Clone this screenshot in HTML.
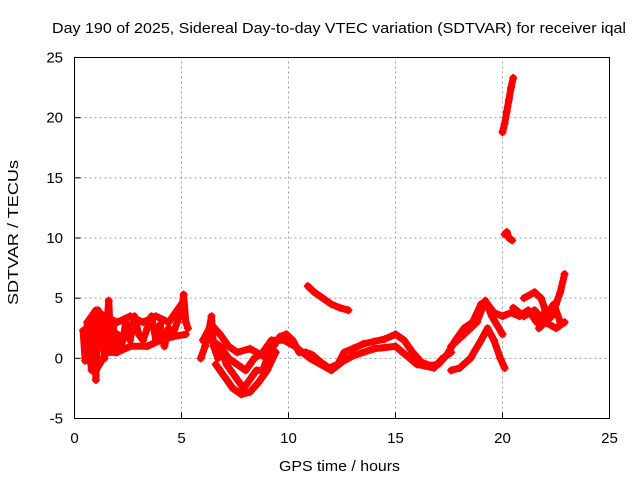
<!DOCTYPE html>
<html><head><meta charset="utf-8"><style>
body{margin:0;background:#fff;}
svg{display:block;font-family:"Liberation Sans",sans-serif;}
</style></head><body>
<svg id="chart" width="640" height="480">
<rect width="640" height="480" fill="#fff"/>
<text x="52" y="33" font-size="15" textLength="574" lengthAdjust="spacingAndGlyphs">Day 190 of 2025, Sidereal Day-to-day VTEC variation (SDTVAR) for receiver iqal</text>
<text x="279" y="471" font-size="15" textLength="121" lengthAdjust="spacingAndGlyphs">GPS time / hours</text>
<text transform="translate(18,305) rotate(-90)" font-size="15" textLength="145" lengthAdjust="spacingAndGlyphs">SDTVAR / TECUs</text>
<g id="grid"></g>
<g id="marks"></g>
<rect x="74.5" y="57.5" width="535" height="361" fill="none" stroke="#000" stroke-width="1"/>
<g id="axes"></g>
</svg>
<script>
const xTicks=[0,5,10,15,20,25];
const yTicks=[-5,0,5,10,15,20,25];
const track1=[[0.4,2.3],[0.5,-0.2],[0.6,3],[0.7,0.5],[0.8,-1],[0.9,3.5],[1.0,-1.8],[1.1,4],[1.2,1],[1.3,3],[1.4,0],[1.5,2.5],[1.6,4.8],[1.7,1],[1.8,3],[1.9,0.5],[2.0,2],[2.2,1],[2.4,3],[2.6,1.5],[2.8,3.5],[3.0,2],[3.2,1.5],[3.4,2.5],[3.6,3.5],[3.8,1.5],[4.0,2.8],[4.2,1],[4.4,2.5],[4.6,2],[4.8,3],[5.0,4],[5.1,5.3],[5.2,3],[5.3,2.5]];
const track2=[[5.9,0],[6.1,1],[6.3,2.5],[6.4,3.5],[6.5,1],[6.7,0],[6.9,0.5],[7.1,-0.5],[7.3,-1],[7.5,-1.5],[7.7,-2],[7.9,-2.5],[8.1,-2],[8.3,-1.5],[8.5,-1],[8.8,-1],[9.0,0],[9.3,1],[9.6,1.8],[9.9,2],[10.2,1.5],[10.5,0.5],[10.8,0.5],[11.1,0.3],[11.5,-0.3],[11.9,-0.8],[12.3,-0.5],[12.6,0.5],[13.0,0.8],[13.5,1.2],[14.0,1.4],[14.5,1.6],[15.0,2],[15.4,1.5],[15.8,0.5],[16.2,-0.3],[16.6,-0.6],[17.0,-0.5],[17.4,0.3],[17.8,1.5],[18.2,2.5],[18.6,3],[19.0,4.5],[19.3,4.5],[19.6,3.8],[20.0,3.5],[20.4,3.8],[20.8,3.5],[21.2,4],[21.6,3],[22.0,3.5],[22.4,4.5],[22.7,3]];
const track3=[[6.2,1.8],[6.8,1],[7.2,0],[7.6,-0.5],[8.0,-1],[8.4,0],[8.8,0.5],[9.2,1.5],[9.8,1.5],[10.3,1],[11.0,0],[11.5,-0.5],[12.0,-1],[12.5,-0.3],[13.0,0.2],[14.0,0.8],[15.0,1],[16.0,-0.5],[16.8,-0.8],[17.2,0],[17.6,0.5]];
const track4=[[17.6,-1],[18.0,-0.8],[18.5,0],[19.0,1.5],[19.3,2.5],[19.6,1.5],[19.9,0],[20.1,-0.8]];
const track5=[[17.6,1],[18.2,2],[18.8,3],[19.2,4.8],[19.5,3.5],[20.0,2]];
const track6=[[10.9,6],[11.2,5.5],[11.6,5],[12.0,4.5],[12.4,4.2],[12.8,4]];
const track7=[[20.0,18.8],[20.1,19.5],[20.2,20.5],[20.3,21.5],[20.4,22.5],[20.5,23.3]];
const track8=[[20.1,10.3],[20.2,10.5],[20.3,10],[20.45,9.8]];
const track9=[[21.0,5],[21.5,5.5],[21.8,5],[22.0,4],[21.7,2.5],[22.3,3.5],[22.5,4.5],[22.7,5.5],[22.9,7]];
const track10=[[6.6,-0.5],[7.0,-1.5],[7.4,-2.5],[7.8,-3],[8.2,-2.8],[8.6,-2],[9.0,-1],[9.4,0.5]];
const track11=[[0.6,3],[1.0,4],[1.4,3.5],[2.0,3],[2.6,3.5],[3.2,3],[3.8,3.5],[4.4,3],[5.0,4.5]];
const track12=[[0.6,0],[1.0,-1],[1.5,0.5],[2.0,0.5],[2.6,1],[3.4,1],[4.0,1.5],[4.6,1.8],[5.2,2]];
const track13=[[20.5,4.2],[21.0,3.5],[21.5,4],[22.0,3],[22.5,2.5],[22.9,3]];
const track14=[[6.0,1.5],[6.4,2.8],[6.8,2],[7.2,1],[7.6,0.5],[8.2,0.8],[8.8,0.2]];
const tracks=[track1,track2,track3,track4,track5,track6,track7,track8,track9,track10,track11,track12,track13,track14];
const X0=74.5,X1=609.5,Y0=418.5,Y1=57.5;
const xs=v=>X0+(v-0)/(25-0)*(X1-X0);
const ys=v=>Y0-(v+5)/30*(Y0-Y1);
const NS='http://www.w3.org/2000/svg';
const grid=document.getElementById('grid'),axes=document.getElementById('axes'),marks=document.getElementById('marks');
function mk(t,a,p){const e=document.createElementNS(NS,t);for(const k in a)e.setAttribute(k,a[k]);p.appendChild(e);return e;}
xTicks.forEach(t=>{const x=xs(t);
 if(t>0&&t<25){const g=mk('line',{x1:x,x2:x,y1:Y0,y2:Y1,stroke:'#a0a0a0','stroke-dasharray':'2,3'},grid);
 
 }
 const l=mk('line',{x1:x,x2:x,y1:Y0,y2:Y0-6,stroke:'#000'},axes);
 
 
 const tx=mk('text',{x:x,y:443,'font-size':15,'text-anchor':'middle'},axes);tx.textContent=t;
 
 
});
yTicks.forEach(t=>{const y=ys(t);
 if(t>-5&&t<25){const g=mk('line',{x1:X0,x2:X1,y1:y,y2:y,stroke:'#a0a0a0','stroke-dasharray':'2,3'},grid);
 
 }
 const l=mk('line',{x1:X0,x2:X0+6,y1:y,y2:y,stroke:'#000'},axes);
 
 
 const tx=mk('text',{x:63,y:y+5,'font-size':15,'text-anchor':'end'},axes);tx.textContent=t;
 
 
});
tracks.forEach(tr=>{
 const pl=mk('polyline',{points:tr.map(p=>xs(p[0])+','+ys(p[1])).join(' '),fill:'none',stroke:'#ff0000','stroke-width':7,'stroke-linejoin':'round','stroke-linecap':'round'},marks);
 
 
 tr.forEach(p=>{const x=xs(p[0]),y=ys(p[1]);
  const m=mk('path',{d:`M${x-4},${y}H${x+4}M${x},${y-4}V${y+4}`,stroke:'#ff0000','stroke-width':1.5},marks);
  
  
 });
});
</script>
</body></html>
